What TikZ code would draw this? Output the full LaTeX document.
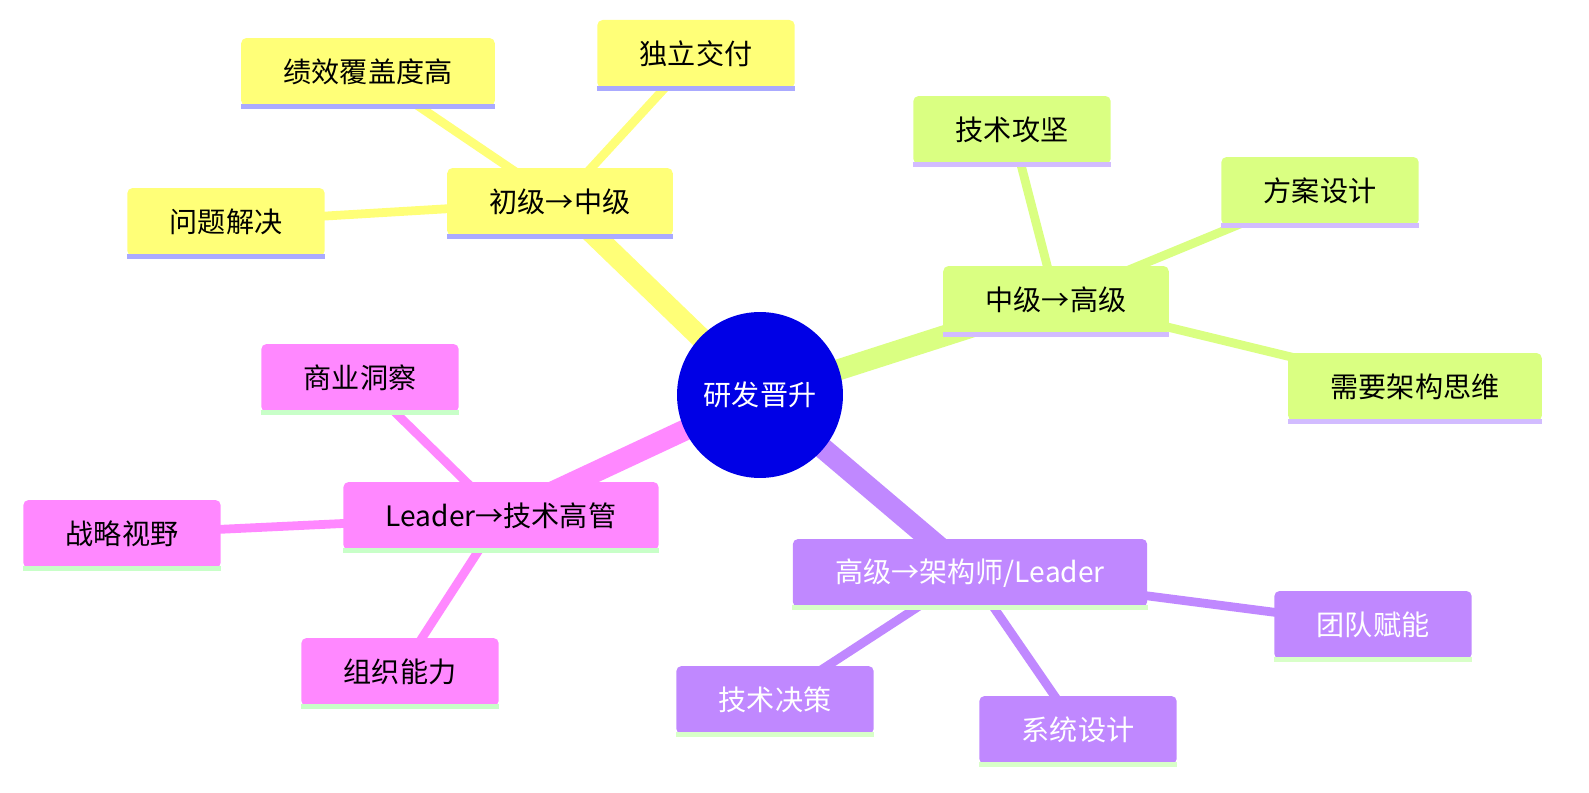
\documentclass[tikz,border=0pt]{standalone}
\usepackage{fontspec}
\setmainfont{Noto Sans CJK SC}
\usetikzlibrary{positioning}
\definecolor{rootc}{HTML}{0000E6}
\definecolor{yel}{HTML}{FFFF78}
\definecolor{yelu}{HTML}{AAAAFF}
\definecolor{grn}{HTML}{DAFF82}
\definecolor{grnu}{HTML}{D2BCFF}
\definecolor{pur}{HTML}{C088FF}
\definecolor{puru}{HTML}{D8FFC8}
\definecolor{pnk}{HTML}{FF88FF}
\definecolor{pnku}{HTML}{C8FFC8}
\tikzset{
  box/.style={rounded corners=3pt, inner xsep=0.85cm, minimum height=1.36cm, font=\fontsize{16}{18}\selectfont},
  ybox/.style={box, fill=yel},
  gbox/.style={box, fill=grn},
  pbox/.style={box, fill=pur, text=white},
  kbox/.style={box, fill=pnk},
  trunk/.style={line width=12pt},
  twig/.style={line width=5pt},
  uline/.style={line width=3pt}
}
\begin{document}
\begin{tikzpicture}[x=0.02cm,y=-0.02cm]
\useasboundingbox (0,0) rectangle (1589,793);
% coordinates of all nodes
\coordinate (r) at (760,395);
\coordinate (p1) at (560,202);
\coordinate (p2) at (1056,300);
\coordinate (p3) at (970,573);
\coordinate (p4) at (501,516);
\coordinate (a1) at (368,72);
\coordinate (a2) at (696,54);
\coordinate (a3) at (226,222);
\coordinate (b1) at (1012,130);
\coordinate (b2) at (1320,191);
\coordinate (b3) at (1415,387);
\coordinate (c1) at (1373,625);
\coordinate (c2) at (775,700);
\coordinate (c3) at (1078,730);
\coordinate (d1) at (360,378);
\coordinate (d2) at (122,534);
\coordinate (d3) at (400,672);
% branches
\draw[trunk, yel] (r) -- (p1);
\draw[trunk, grn] (r) -- (p2);
\draw[trunk, pur] (r) -- (p3);
\draw[trunk, pnk] (r) -- (p4);
\foreach \x in {a1,a2,a3} \draw[twig, yel] (p1) -- (\x);
\foreach \x in {b1,b2,b3} \draw[twig, grn] (p2) -- (\x);
\foreach \x in {c1,c2,c3} \draw[twig, pur] (p3) -- (\x);
\foreach \x in {d1,d2,d3} \draw[twig, pnk] (p4) -- (\x);
% nodes
\node[circle, fill=rootc, text=white, minimum size=3.32cm, font=\fontsize{16}{18}\selectfont] (root) at (r) {研发晋升};
\node[ybox] (jun) at (p1) {初级→中级};
\node[ybox] (perf) at (a1) {绩效覆盖度高};
\node[ybox] (deliv) at (a2) {独立交付};
\node[ybox] (solve) at (a3) {问题解决};
\node[gbox] (mid) at (p2) {中级→高级};
\node[gbox] (tough) at (b1) {技术攻坚};
\node[gbox] (plan) at (b2) {方案设计};
\node[gbox] (arch) at (b3) {需要架构思维};
\node[pbox] (sen) at (p3) {高级→架构师/Leader};
\node[pbox] (team) at (c1) {团队赋能};
\node[pbox] (decide) at (c2) {技术决策};
\node[pbox] (sys) at (c3) {系统设计};
\node[kbox] (lead) at (p4) {Leader→技术高管};
\node[kbox] (biz) at (d1) {商业洞察};
\node[kbox] (strat) at (d2) {战略视野};
\node[kbox] (org) at (d3) {组织能力};
% underlines
\foreach \n in {jun,perf,deliv,solve} \draw[uline, yelu] (\n.south west) -- (\n.south east);
\foreach \n in {mid,tough,plan,arch} \draw[uline, grnu] (\n.south west) -- (\n.south east);
\foreach \n in {sen,team,decide,sys} \draw[uline, puru] (\n.south west) -- (\n.south east);
\foreach \n in {lead,biz,strat,org} \draw[uline, pnku] (\n.south west) -- (\n.south east);
\end{tikzpicture}
\end{document}
